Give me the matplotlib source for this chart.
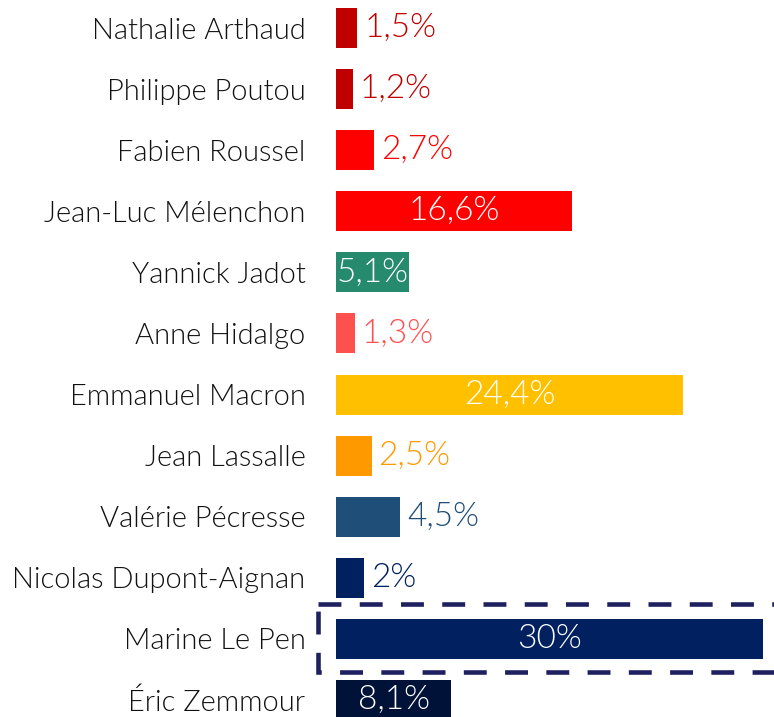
import numpy as np
import matplotlib
matplotlib.use('Agg')
from matplotlib import pyplot as plt
from matplotlib.patches import Rectangle

# first round poll results
candidates = ['Nathalie Arthaud', 'Philippe Poutou', 'Fabien Roussel',
              'Jean-Luc Mélenchon', 'Yannick Jadot', 'Anne Hidalgo',
              'Emmanuel Macron', 'Jean Lassalle', 'Valérie Pécresse',
              'Nicolas Dupont-Aignan', 'Marine Le Pen', 'Éric Zemmour']
scores = [1.5, 1.2, 2.7, 16.6, 5.1, 1.3, 24.4, 2.5, 4.5, 2.0, 30.0, 8.1]
colors = ['#C00000', '#C00000', '#FF0000', '#FF0000', '#268A6E', '#FF5050',
          '#FFC000', '#FF9900', '#1F4E79', '#002060', '#002060', '#001238']
inside = [False, False, False, True, True, False,
          True, False, False, False, True, True]
highlight = 'Marine Le Pen'

plt.rcParams['font.family'] = ['Lato', 'DejaVu Sans']

fig = plt.figure(figsize=(7.74, 7.17), dpi=100)
ax = fig.add_axes([336 / 774, 0, 438 / 774, 1])

y = np.arange(len(candidates))
ax.barh(y, scores, height=0.655, color=colors)

ax.set_xlim(0, 438 / 14.233)
ax.set_ylim(11 + 17 / 61.09, -28 / 61.09)

ax.set_yticks(y)
ax.set_yticklabels(candidates, fontsize=21, color='#111111',
                   fontweight=300)
ax.tick_params(axis='y', length=0, pad=22)
ax.set_xticks([])
for s in ax.spines.values():
    s.set_visible(False)

for i, (v, c, ins) in enumerate(zip(scores, colors, inside)):
    txt = ('%g' % v).replace('.', ',') + '%'
    if ins:
        ax.text(v / 2, i, txt, ha='center', va='center', color='white',
                fontsize=24, fontweight=300)
    else:
        ax.annotate(txt, (v, i), xytext=(5, 0), textcoords='offset points',
                    ha='left', va='center', color=c, fontsize=24,
                    fontweight=300)

# dashed box around the leader
k = candidates.index(highlight)
box = Rectangle((-1.26, k - 0.573), scores[k] + 3, 1.121, fill=False,
                edgecolor='#1F2060', lw=3.3, linestyle=(0, (5, 4)),
                clip_on=False)
ax.add_patch(box)

plt.savefig('out.png', dpi=100)
